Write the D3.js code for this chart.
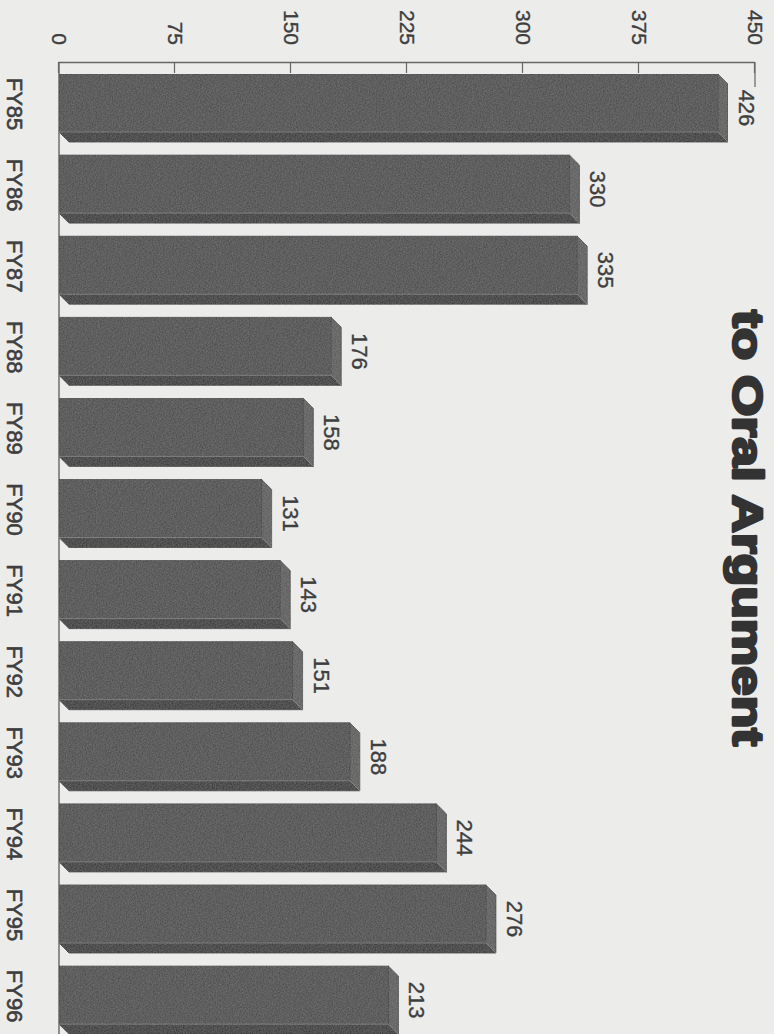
<!DOCTYPE html>
<html>
<head>
<meta charset="utf-8">
<script src="https://cdn.jsdelivr.net/npm/d3@7"></script>
<style>
  html, body { margin: 0; padding: 0; background: #ececeb; }
  svg { display: block; }
</style>
</head>
<body>
<svg id="chart" width="774" height="1034"></svg>
<script>
// Cases per fiscal year (value labels drawn on top of each bar)
const categories = ["FY85", "FY86", "FY87", "FY88", "FY89", "FY90",
                    "FY91", "FY92", "FY93", "FY94", "FY95", "FY96"];
const values = [426, 330, 335, 176, 158, 131, 143, 151, 188, 244, 276, 213];
const tickValues = [0, 75, 150, 225, 300, 375, 450];
const titleText = "to Oral Argument";

const W = 774, H = 1034;
const svg = d3.select("#chart");

// Fine grain used on the bar faces
const defs = svg.append("defs");
const grain = defs.append("filter").attr("id", "grain")
  .attr("x", 0).attr("y", 0).attr("width", "100%").attr("height", "100%");
grain.append("feTurbulence").attr("type", "fractalNoise")
  .attr("baseFrequency", 0.7).attr("numOctaves", 2).attr("seed", 7).attr("result", "noise");
grain.append("feColorMatrix").attr("in", "noise").attr("type", "matrix")
  .attr("values", "1.4 0 0 0 -0.35  1.4 0 0 0 -0.35  1.4 0 0 0 -0.35  0 0 0 0 0.09")
  .attr("result", "tone");
grain.append("feComposite").attr("in", "tone").attr("in2", "SourceGraphic")
  .attr("operator", "in").attr("result", "speck");
const merge = grain.append("feMerge");
merge.append("feMergeNode").attr("in", "SourceGraphic");
merge.append("feMergeNode").attr("in", "speck");

svg.append("rect").attr("width", W).attr("height", H).attr("fill", "#ececeb");

// The whole chart is laid out upright, then turned a quarter turn clockwise
const PW = 1034, PH = 774;        // upright page size
const g = svg.append("g").attr("transform", `translate(${W},0) rotate(90)`);

const depth = 10;
const axisX = 62;

const y = d3.scaleLinear().domain([0, 450]).range([715, 19]);
const x = d3.scaleBand().domain(categories)
  .range([74, 74 + 11 * 81.1 + 58])
  .paddingInner(0.285).paddingOuter(0);

const textColor = "#3e3e3e";
const font = "'Liberation Sans', Arial, Helvetica, sans-serif";

// Value axis with short inward ticks
const yAxis = d3.axisLeft(y).tickValues(tickValues)
  .tickSizeInner(-11).tickSizeOuter(0).tickPadding(17)
  .tickFormat(d3.format("d"));
const ax = g.append("g").attr("transform", `translate(${axisX},0)`).call(yAxis);
ax.select(".domain").attr("stroke", "#666").attr("stroke-width", 1.4);
ax.selectAll(".tick line").attr("stroke", "#666").attr("stroke-width", 1.2);
ax.selectAll(".tick text")
  .attr("fill", textColor).attr("stroke", textColor).attr("stroke-width", 0.35)
  .attr("font-family", font).attr("font-size", 21);
// longer end tick at the top of the scale
g.append("line")
  .attr("x1", axisX).attr("x2", axisX + 25)
  .attr("y1", y(450)).attr("y2", y(450))
  .attr("stroke", "#666").attr("stroke-width", 1.2);

// Category baseline
g.append("line")
  .attr("x1", axisX).attr("x2", PW)
  .attr("y1", y(0)).attr("y2", y(0))
  .attr("stroke", "#666").attr("stroke-width", 1.4);

// 3D bars
const data = categories.map((c, i) => ({ cat: c, v: values[i] }));
const bars = g.append("g").attr("filter", "url(#grain)")
  .selectAll("g.bar").data(data).join("g").attr("class", "bar");

bars.each(function (d) {
  const s = d3.select(this);
  const x0 = x(d.cat), bw = x.bandwidth();
  const yt = y(d.v), yb = y(0);
  // side face
  s.append("polygon")
    .attr("points", [[x0 + bw, yb], [x0 + bw + depth, yb - depth],
                     [x0 + bw + depth, yt - depth], [x0 + bw, yt]].join(" "))
    .attr("fill", "#454545").attr("stroke", "#3c3c3c").attr("stroke-width", 0.8);
  // top face
  s.append("polygon")
    .attr("points", [[x0, yt], [x0 + depth, yt - depth],
                     [x0 + bw + depth, yt - depth], [x0 + bw, yt]].join(" "))
    .attr("fill", "#646464").attr("stroke", "#4a4a4a").attr("stroke-width", 0.8);
  // front face
  s.append("rect")
    .attr("x", x0).attr("y", yt).attr("width", bw).attr("height", yb - yt)
    .attr("fill", "#565656").attr("stroke", "#474747").attr("stroke-width", 0.8);
  // light edge highlights
  s.append("line")
    .attr("x1", x0 + bw).attr("x2", x0 + bw).attr("y1", yt).attr("y2", yb)
    .attr("stroke", "#7e7e7e").attr("stroke-width", 1);
  s.append("line")
    .attr("x1", x0 + bw).attr("x2", x0 + bw + depth).attr("y1", yt).attr("y2", yt - depth)
    .attr("stroke", "#858585").attr("stroke-width", 1);
});

// Value labels above each bar
g.append("g").selectAll("text").data(data).join("text")
  .attr("x", d => x(d.cat) + x.bandwidth() / 2 + depth / 2)
  .attr("y", d => y(d.v) - depth - 11)
  .attr("text-anchor", "middle")
  .attr("fill", textColor).attr("stroke", textColor).attr("stroke-width", 0.35)
  .attr("font-family", font).attr("font-size", 22)
  .text(d => d.v);

// Category labels
g.append("g").selectAll("text").data(data).join("text")
  .attr("x", d => x(d.cat) + x.bandwidth() / 2 + 1)
  .attr("y", 767)
  .attr("text-anchor", "middle")
  .attr("fill", textColor).attr("stroke", textColor).attr("stroke-width", 0.6)
  .attr("font-family", font).attr("font-size", 22)
  .text(d => d.cat);

// Title (second line)
g.append("text")
  .attr("x", 528).attr("y", 41)
  .attr("text-anchor", "middle")
  .attr("fill", "#333").attr("stroke", "#333").attr("stroke-width", 2.6)
  .attr("stroke-linejoin", "round")
  .attr("font-family", font).attr("font-weight", 900).attr("font-size", 42)
  .attr("textLength", 436).attr("lengthAdjust", "spacingAndGlyphs")
  .text(titleText);
</script>
</body>
</html>
